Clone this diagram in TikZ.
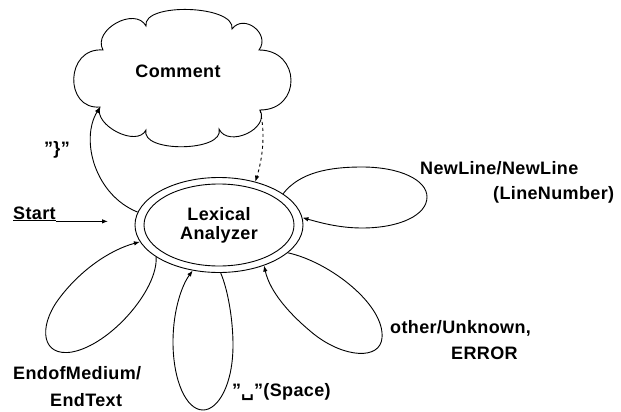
\documentclass[tikz,border=0pt]{standalone}
\usepackage{fontspec}
\setmainfont{Liberation Sans}[LetterSpace=2]
\newfontfamily\symfont{DejaVu Sans}
\usetikzlibrary{shapes.geometric,arrows.meta}
\begin{document}
\begin{tikzpicture}[x=1pt,y=-1pt,
  lbl/.style={font=\fontsize{18}{19}\selectfont\bfseries, inner sep=0pt},
  edge/.style={line width=0.9pt, -{Latex[length=6pt,width=4.5pt]}},
  ring/.style={draw, ellipse, line width=0.9pt, inner sep=0pt},
  outline/.style={line width=0.9pt}]
\useasboundingbox (0,0) rectangle (621,412);
% cloud (Comment state), cusps named
\coordinate (cA) at (100,107);
\coordinate (cB) at (103,50);
\coordinate (cC) at (146,26);
\coordinate (cD) at (232,29);
\coordinate (cE) at (259,50);
\coordinate (cF) at (260,110);
\coordinate (cG) at (219,129);
\coordinate (cH) at (146,130);
\draw[outline] (cA) .. controls (64,110) and (65,47) .. (cB)
  .. controls (92,30) and (135,6) .. (cC)
  .. controls (142,2) and (236,5) .. (cD)
  .. controls (244,13) and (271,34) .. (cE)
  .. controls (301,50) and (302,110) .. (cF)
  .. controls (270,129) and (228,148) .. (cG)
  .. controls (225,152) and (140,153) .. (cH)
  .. controls (137,148) and (93,125) .. (cA) -- cycle;
\node[lbl] (cm) at (178,71) {Comment};
% lexical analyzer
\node[ring, minimum width=168pt, minimum height=95pt] (lex) at (219,225) {};
\node[ring, minimum width=150pt, minimum height=82pt, align=center, lbl] (lexin) at (219,225) {Lexical\\Analyzer};
% start
\node[lbl, anchor=base west] (st) at (13,219) {\underline{Start}};
\coordinate (sa) at (108,222);
\draw[edge] (st.south east) -- (st.south east -| sa);
% comment transitions
\draw[edge] (lex.171) .. controls (95,195) and (80,140) .. (cA);
\node[lbl] (brace) at (57,150) {"\}"};
\draw[edge, dashed] (cF) .. controls (266,135) and (262,160) .. (lex.50);
% NewLine loop
\draw[edge] (lex.26) .. controls (300,172) and (330,167) .. (362,167)
  .. controls (400,167) and (427,180) .. (427,197)
  .. controls (427,215) and (400,228) .. (362,228)
  .. controls (338,228) and (318,222) .. (lex.5);
\node[lbl, anchor=base west] (nl1) at (420,174) {NewLine/NewLine};
\node[lbl, anchor=base west] (nl2) at (493,199) {(LineNumber)};
% other loop
\draw[edge] (lex.-22) .. controls (330,262) and (385,305) .. (382,338)
  .. controls (380,360) and (345,358) .. (315,335)
  .. controls (290,315) and (270,292) .. (lex.-42);
\node[lbl, anchor=base west] (ot1) at (390,333) {other/Unknown,};
\node[lbl, anchor=base west] (ot2) at (451,359) {ERROR};
% space loop
\draw[edge] (lex.-88) .. controls (228,290) and (233,320) .. (233,345)
  .. controls (233,385) and (218,410) .. (203,410)
  .. controls (186,410) and (173,380) .. (173,342)
  .. controls (173,310) and (182,285) .. (lex.-120);
\node[lbl, anchor=base west] (sp) at (232,396) {"{\symfont ␣}"(Space)};
% end of medium loop
\draw[edge] (lex.-153) .. controls (158,290) and (110,345) .. (72,352)
  .. controls (42,357) and (38,328) .. (58,300)
  .. controls (80,270) and (110,250) .. (lex.-168);
\node[lbl, anchor=base west] (em1) at (13,379) {EndofMedium/};
\node[lbl, anchor=base west] (em2) at (50,406) {EndText};
\end{tikzpicture}
\end{document}
